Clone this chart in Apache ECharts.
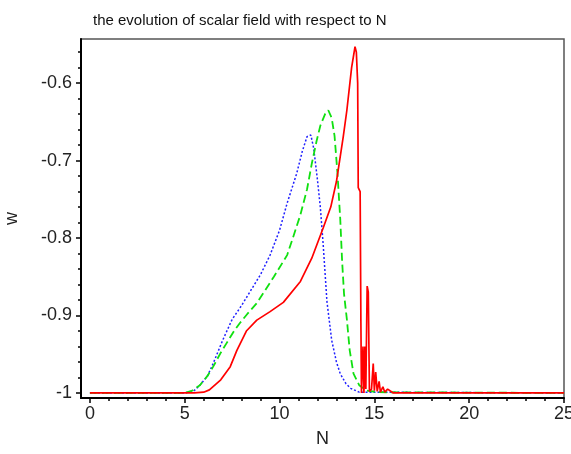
<!DOCTYPE html>
<html>
<head>
<meta charset="utf-8">
<script src="https://cdn.jsdelivr.net/npm/echarts@6/dist/echarts.min.js"></script>
<style>html,body{margin:0;padding:0;background:#fff;}#c{width:571px;height:454px;}</style>
</head>
<body>
<div id="c"></div>
<script>
const titleText = 'the evolution of scalar field with respect to N';
const xTicks = [0, 5, 10, 15, 20, 25];
const xMinorTicks = [1,2,3,4,6,7,8,9,11,12,13,14,16,17,18,19,21,22,23,24];
const yTicks = [-1, -0.9, -0.8, -0.7, -0.6];
const yMinorTicks = [-0.98,-0.96,-0.94,-0.92,-0.88,-0.86,-0.84,-0.82,-0.78,-0.76,-0.74,-0.72,-0.68,-0.66,-0.64,-0.62,-0.58,-0.56];

const redN = [0, 5.5, 6.0, 6.3, 6.9, 7.4, 7.75, 8.25, 8.8, 9.5, 10.2, 11.1, 11.7, 12.3, 12.7, 13.0, 13.36, 13.55, 13.8, 13.98,
  14.05, 14.12, 14.15, 14.25, 14.29, 14.32, 14.40, 14.45, 14.50, 14.55, 14.62, 14.68, 14.74, 14.85, 14.94, 15.0, 15.07, 15.15, 15.25, 15.32, 15.45, 15.55, 15.7, 16.0, 25];
const redW = [-1, -1, -0.999, -0.996, -0.983, -0.966, -0.945, -0.92, -0.906, -0.895, -0.883, -0.856, -0.826, -0.787, -0.76, -0.727, -0.669, -0.635, -0.58, -0.553,
  -0.56, -0.60, -0.735, -0.74, -0.91, -1.0, -0.94, -1.0, -0.94, -0.995, -0.862, -0.87, -0.998, -0.995, -0.962, -0.997, -0.973, -0.998, -0.985, -0.999, -0.992, -0.999, -0.995, -1.0, -1];

const greenN = [0, 5.0, 5.4, 5.8, 6.2, 6.5, 6.9, 7.2, 7.6, 7.9, 8.3, 8.8, 9.2, 9.7, 10.4, 10.7, 11.1, 11.45, 11.7, 11.95, 12.15, 12.4, 12.57, 12.75, 12.9, 13.05, 13.2, 13.3, 13.4, 13.55, 13.7, 13.9, 14.2, 14.6, 15.2, 25];
const greenW = [-1, -1, -0.997, -0.99, -0.978, -0.966, -0.948, -0.936, -0.92, -0.91, -0.898, -0.884, -0.869, -0.85, -0.822, -0.80, -0.77, -0.737, -0.704, -0.675, -0.655, -0.64, -0.635, -0.645, -0.668, -0.715, -0.775, -0.83, -0.872, -0.905, -0.945, -0.975, -0.99, -0.997, -0.999, -1];

const blueN = [0, 5.0, 5.5, 5.8, 6.2, 6.5, 7.0, 7.5, 8.0, 8.5, 9.0, 9.5, 10.0, 10.4, 10.9, 11.2, 11.45, 11.65, 11.8, 12.0, 12.15, 12.3, 12.5, 12.75, 13.0, 13.2, 13.5, 13.75, 14.2, 25];
const blueW = [-1, -1, -0.997, -0.99, -0.978, -0.962, -0.932, -0.905, -0.887, -0.867, -0.847, -0.822, -0.79, -0.755, -0.717, -0.688, -0.669, -0.667, -0.684, -0.725, -0.76, -0.808, -0.882, -0.932, -0.96, -0.975, -0.988, -0.994, -0.999, -1];

function pairs(xs, ys) { return xs.map((x, i) => [x, ys[i]]); }

const FONT = '"Liberation Sans", Arial, sans-serif';
const X_MIN = -0.47, X_MAX = 25, Y_MIN = -1.0065, Y_MAX = -0.543;

const chart = echarts.init(document.getElementById('c'), null, {renderer: 'canvas'});
chart.setOption({
  animation: false,
  backgroundColor: '#ffffff',
  textStyle: {fontFamily: FONT},
  title: {
    text: titleText, left: 88, top: 8,
    textStyle: {fontSize: 15, fontWeight: 'normal', color: '#111', fontFamily: FONT}
  },
  grid: {left: 81, right: 7, top: 39, bottom: 56, show: true, borderColor: '#555', borderWidth: 1.5, backgroundColor: 'transparent', containLabel: false, outerBoundsMode: 'none'},
  xAxis: [{
    type: 'value', min: X_MIN, max: X_MAX,
    name: 'N', nameLocation: 'middle', nameGap: 32,
    nameTextStyle: {fontSize: 18, color: '#222', fontFamily: FONT},
    axisLine: {show: true, onZero: false, lineStyle: {color: '#000', width: 2}},
    axisTick: {show: true, inside: false, length: 5, customValues: xTicks, lineStyle: {color: '#000', width: 1.5}},
    axisLabel: {show: true, customValues: xTicks, fontSize: 18, color: '#222', margin: 7, fontFamily: FONT},
    splitLine: {show: false}
  }, {
    type: 'value', min: X_MIN, max: X_MAX, position: 'bottom',
    axisLine: {show: false, onZero: false},
    axisTick: {show: true, inside: false, length: 3, customValues: xMinorTicks, lineStyle: {color: '#000', width: 1.5}},
    axisLabel: {show: false},
    splitLine: {show: false}
  }],
  yAxis: [{
    type: 'value', min: Y_MIN, max: Y_MAX,
    name: 'w', nameLocation: 'middle', nameGap: 60,
    nameTextStyle: {fontSize: 18, color: '#222', fontFamily: FONT},
    axisLine: {show: true, onZero: false, lineStyle: {color: '#000', width: 2}},
    axisTick: {show: true, inside: false, length: 5, customValues: yTicks, lineStyle: {color: '#000', width: 1.5}},
    axisLabel: {show: true, customValues: yTicks, fontSize: 18, color: '#222', margin: 9, fontFamily: FONT},
    splitLine: {show: false}
  }, {
    type: 'value', min: Y_MIN, max: Y_MAX, position: 'left',
    axisLine: {show: false, onZero: false},
    axisTick: {show: true, inside: false, length: 3, customValues: yMinorTicks, lineStyle: {color: '#000', width: 1.5}},
    axisLabel: {show: false},
    splitLine: {show: false}
  }],
  series: [{
    type: 'line', name: 'blue', data: pairs(blueN, blueW), showSymbol: false, symbol: 'none',
    lineStyle: {color: '#2020ff', width: 1.5, type: [2, 2]}, z: 3
  }, {
    type: 'line', name: 'green', data: pairs(greenN, greenW), showSymbol: false, symbol: 'none',
    lineStyle: {color: '#10e010', width: 1.8, type: [8, 4]}, z: 4
  }, {
    type: 'line', name: 'red', data: pairs(redN, redW), showSymbol: false, symbol: 'none',
    lineStyle: {color: '#ff0000', width: 1.7}, z: 5
  }]
});
</script>
</body>
</html>
